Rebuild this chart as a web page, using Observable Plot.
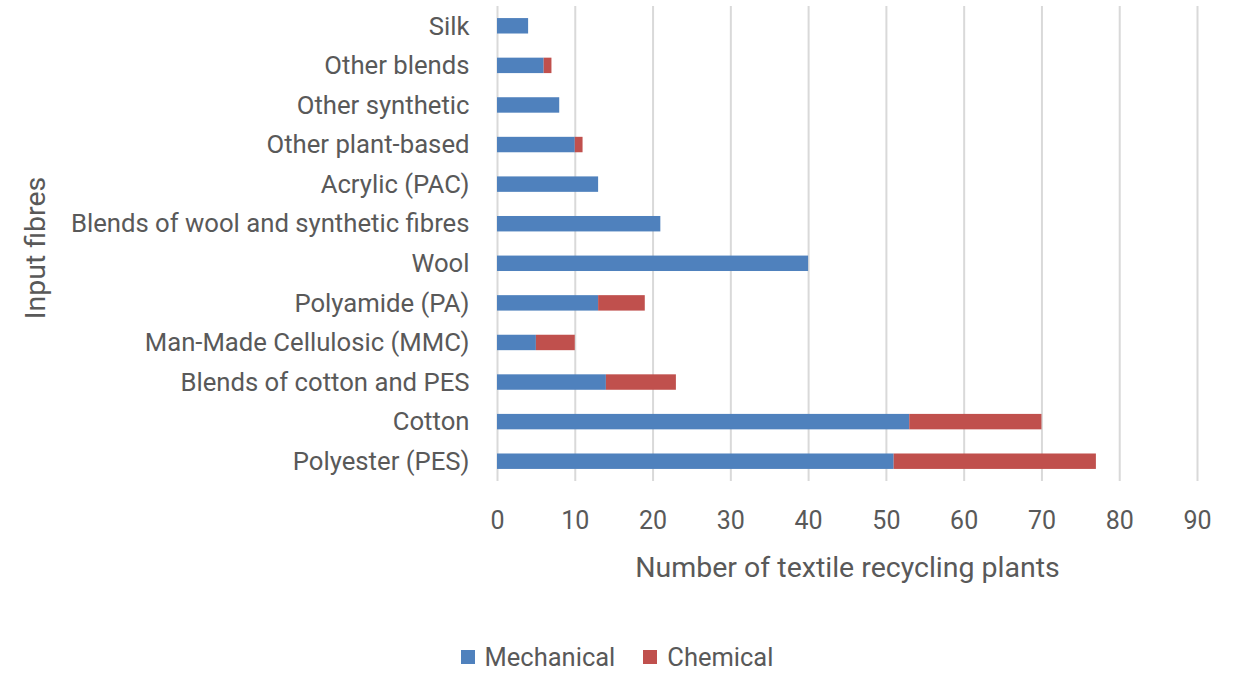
<!DOCTYPE html>
<html>
<head>
<meta charset="utf-8">
<script src="https://cdn.jsdelivr.net/npm/d3@7"></script>
<script src="https://cdn.jsdelivr.net/npm/@observablehq/plot@0.6"></script>
<style>
  body { margin: 0; background: #fff; font-family: Roboto, "Open Sans", sans-serif; }
  #legend { display: flex; justify-content: center; gap: 28px; font-size: 25.5px; color: #595959; margin-top: 6px; padding-right: 4px; }
  #legend span.item { display: inline-flex; align-items: center; }
  #legend span.sw { display: inline-block; width: 14px; height: 14px; margin-right: 10px; }
</style>
</head>
<body>
<div id="chart"></div>
<div id="legend"></div>
<script>
const fibres = ["Silk", "Other blends", "Other synthetic", "Other plant-based", "Acrylic (PAC)", "Blends of wool and synthetic fibres", "Wool", "Polyamide (PA)", "Man-Made Cellulosic (MMC)", "Blends of cotton and PES", "Cotton", "Polyester (PES)"];
const mechanical = [4, 6, 8, 10, 13, 21, 40, 13, 5, 14, 53, 51];
const chemical   = [0, 1, 0, 1, 0, 0, 0, 6, 5, 9, 17, 26];
const types = ["Mechanical", "Chemical"];
const colors = ["#4f81bd", "#c0504d"];
const xTicks = [0, 10, 20, 30, 40, 50, 60, 70, 80, 90];

const data = [];
fibres.forEach((f, i) => {
  data.push({fibre: f, type: "Mechanical", value: mechanical[i]});
  data.push({fibre: f, type: "Chemical", value: chemical[i]});
});

const chart = Plot.plot({
  width: 1238,
  height: 636,
  marginLeft: 497,
  marginRight: 41,
  marginTop: 6,
  marginBottom: 155,
  style: {fontFamily: "Roboto, 'Open Sans', sans-serif", fontSize: "25px", color: "#595959", background: "#fff"},
  x: {domain: [0, 90], ticks: xTicks, label: null},
  y: {domain: fibres, label: null, paddingInner: 0.61, paddingOuter: 0.305, round: false},
  color: {domain: types, range: colors},
  marks: [
    Plot.gridX(xTicks, {stroke: "#d9d9d9", strokeOpacity: 1, strokeWidth: 2}),
    Plot.barX(data, {x: "value", y: "fibre", fill: "type", order: types}),
    Plot.axisX({ticks: xTicks, tickSize: 0, tickPadding: 30, fontSize: 25, label: null}),
    Plot.axisY({tickSize: 0, tickPadding: 28, fontSize: 25.7, label: null}),
    Plot.text(["Number of textile recycling plants"], {frameAnchor: "bottom", dy: 95, fontSize: 28.5, fill: "#595959"}),
    Plot.text(["Input fibres"], {frameAnchor: "left", textAnchor: "middle", dx: -462, dy: 4, rotate: -90, fontSize: 28.5, fill: "#595959"})
  ]
});
document.getElementById("chart").appendChild(chart);

const legend = document.getElementById("legend");
types.forEach((t, i) => {
  const item = document.createElement("span");
  item.className = "item";
  const sw = document.createElement("span");
  sw.className = "sw";
  sw.style.background = colors[i];
  item.appendChild(sw);
  item.appendChild(document.createTextNode(t));
  legend.appendChild(item);
});
</script>
</body>
</html>
